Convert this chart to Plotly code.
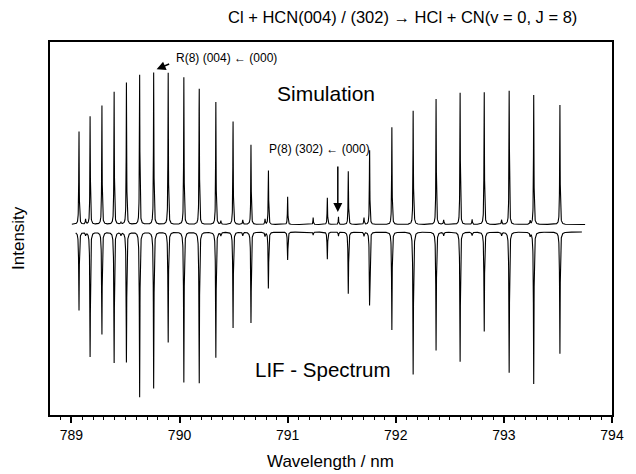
import numpy as np
import plotly.graph_objects as go

# ---- data (wavelength in nm, intensity in arbitrary units) ----
line_pos = [789.070, 789.173, 789.282, 789.395, 789.509, 789.631, 789.761, 789.895,
            790.040, 790.182, 790.336, 790.495, 790.661, 790.822, 791.000, 791.236,
            791.367, 791.470, 791.561, 791.758, 791.964, 792.161, 792.373, 792.595,
            792.818, 793.049, 793.276, 793.518]
sim_height = [95.2, 108.8, 121.8, 133.5, 142.8, 150.5, 152.8, 152.5,
              147.2, 139.2, 122.5, 103.5, 80.2, 55.2, 27.8, 7.0,
              26.8, 7.8, 53.5, 76.2, 97.2, 113.8, 126.2, 132.5,
              135.5, 134.5, 129.5, 122.5]
lif_depth = [79.7, 125.3, 104.0, 131.3, 130.7, 165.7, 157.0, 110.7,
             150.3, 153.7, 125.7, 96.3, 91.3, 57.3, 28.0, 3.0,
             27.3, 4.0, 62.0, 74.7, 98.0, 142.3, 119.0, 130.3,
             101.3, 141.3, 152.0, 124.0]
weak_pos = [789.131, 789.458, 790.382, 790.585, 790.791, 791.706, 792.170,
            792.443, 792.706, 792.979, 793.243]
weak_sim = [5.2, 2.2, 3.5, 4.5, 5.2, 6.8, 6.5, 4.5, 5.2, 4.5, 3.5]
weak_lif = [3.0, 3.0, 3.5, 3.5, 4.0, 4.0, 5.0, 3.5, 3.5, 3.5, 3.5]

sim_range = [789.004, 793.752]
lif_range = [789.040, 793.722]
lif_offset = -7.5

x_ticks = [789, 790, 791, 792, 793, 794]

title_text = "Cl + HCN(004) / (302) \u2192 HCl + CN(v = 0, J = 8)"
x_title = "Wavelength / nm"
y_title = "Intensity"


def profile(x, pos, amp, g):
    y = np.zeros_like(x)
    for p, a in zip(pos, amp):
        y += a * g * g / ((x - p) ** 2 + g * g)
    return y


xs = np.arange(sim_range[0], sim_range[1], 0.0008)
ys = profile(xs, line_pos, sim_height, 0.0025) + profile(xs, weak_pos, weak_sim, 0.003)

xl = np.arange(lif_range[0], lif_range[1], 0.0008)
yl = lif_offset - profile(xl, line_pos, lif_depth, 0.003) - profile(xl, weak_pos, weak_lif, 0.004)

FONT = "Arial, Liberation Sans, sans-serif"

fig = go.Figure()
fig.add_trace(go.Scatter(x=xs, y=ys, mode="lines", line=dict(color="black", width=1.1),
                         hoverinfo="skip", showlegend=False))
fig.add_trace(go.Scatter(x=xl, y=yl, mode="lines", line=dict(color="black", width=1.1),
                         hoverinfo="skip", showlegend=False))

ann = []
# arrow R(8)
ann.append(dict(x=789.788, y=155.2, ax=789.918, ay=161.2, xref="x", yref="y",
                axref="x", ayref="y", showarrow=True, arrowhead=2, arrowsize=1.2,
                arrowwidth=1.5, arrowcolor="black", text=""))
ann.append(dict(x=789.95, y=167.0, xref="x", yref="y", text="R(8) (004) \u2190 (000)",
                showarrow=False, xanchor="left", yanchor="middle",
                font=dict(family=FONT, size=12, color="black")))
# arrow P(8)
ann.append(dict(x=791.464, y=12.5, ax=791.464, ay=59.5, xref="x", yref="y",
                axref="x", ayref="y", showarrow=True, arrowhead=2, arrowsize=1.2,
                arrowwidth=1.5, arrowcolor="black", text=""))
ann.append(dict(x=791.29, y=75.5, xref="x", yref="y", text="P(8) (302) \u2190 (000)",
                showarrow=False, xanchor="center", yanchor="middle",
                font=dict(family=FONT, size=12, color="black")))
ann.append(dict(x=791.352, y=131.5, xref="x", yref="y", text="Simulation",
                showarrow=False, xanchor="center", yanchor="middle",
                font=dict(family=FONT, size=21, color="black")))
ann.append(dict(x=791.33, y=-144.5, xref="x", yref="y", text="LIF - Spectrum",
                showarrow=False, xanchor="center", yanchor="middle",
                font=dict(family=FONT, size=20.5, color="black")))
ann.append(dict(x=0.4993, y=-0.126, xref="paper", yref="paper", text=x_title,
                showarrow=False, xanchor="center", yanchor="middle",
                font=dict(family=FONT, size=17, color="black")))
ann.append(dict(x=-0.057, y=0.4745, xref="paper", yref="paper", text=y_title,
                showarrow=False, xanchor="center", yanchor="middle", textangle=-90,
                font=dict(family=FONT, size=17, color="black")))
ann.append(dict(x=0.627, y=1.067, xref="paper", yref="paper", text=title_text,
                showarrow=False, xanchor="center", yanchor="middle",
                font=dict(family=FONT, size=16.5, color="black")))

fig.update_layout(
    width=636, height=474,
    margin=dict(l=50, r=14, t=42, b=59),
    paper_bgcolor="white", plot_bgcolor="white",
    annotations=ann,
    xaxis=dict(range=[788.802, 794.0], tickvals=x_ticks, ticktext=[str(v) for v in x_ticks],
               ticks="outside", ticklen=6, tickwidth=1.5, tickcolor="black",
               minor=dict(dtick=0.1, tick0=789, ticks="outside", ticklen=3,
                          tickwidth=1.2, tickcolor="black"),
               showline=True, linewidth=2, linecolor="black", mirror=True,
               showgrid=False, zeroline=False,
               tickfont=dict(family=FONT, size=14, color="black")),
    yaxis=dict(range=[-190.5, 182.5], showticklabels=False, ticks="",
               showline=True, linewidth=2, linecolor="black", mirror=True,
               showgrid=False, zeroline=False),
)

fig.write_html("out.html")
